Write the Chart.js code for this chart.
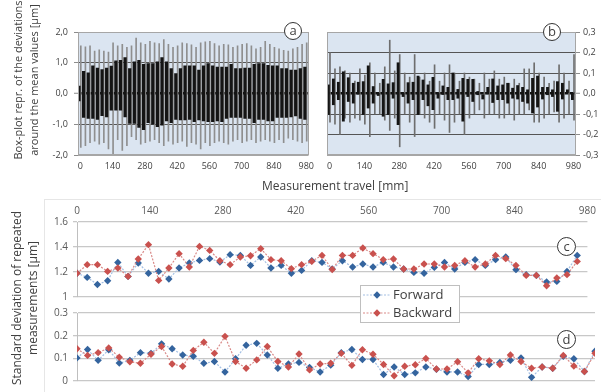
<!DOCTYPE html>
<html>
<head>
<meta charset="utf-8">
<script src="https://cdn.jsdelivr.net/npm/chart.js@4.4.1/dist/chart.umd.min.js"></script>
<style>
  body { margin: 0; background: #fff; width: 601px; height: 392px; overflow: hidden; position: relative;
         font-family: "Open Sans", sans-serif; color: #404040; }
  canvas { position: absolute; }
  #chartA { left: 0; top: 0; }
  #chartB { left: 320px; top: 0; }
  #chartC { left: 0; top: 195px; z-index: 2; }
  #chartD { left: 0; top: 300px; z-index: 1; }
  .ytitle { position: absolute; height: 32px; line-height: 16px; text-align: center; white-space: nowrap;
            transform: rotate(-90deg); }
  .tag { position: absolute; width: 16px; height: 16px; border: 1.2px solid #333; border-radius: 50%;
         background: #fff; text-align: center; font-size: 13px; line-height: 14px; z-index: 3; }
  .frame { position: absolute; left: 44px; top: 199px; width: 600px; height: 220px; border: 1px solid #e6e6e6; }
</style>
</head>
<body>
<div class="frame"></div>
<canvas id="chartA" width="320" height="180"></canvas>
<canvas id="chartB" width="281" height="180"></canvas>
<canvas id="chartC" width="601" height="140"></canvas>
<canvas id="chartD" width="601" height="92"></canvas>

<div class="ytitle" style="left:-64px; top:64px; width:180px; font-size:11px;">Box-plot repr. of the deviations<br>around the mean values [µm]</div>
<div class="ytitle" style="left:-75px; top:282px; width:200px; font-size:12px;">Standard deviation of repeated<br>measurements [µm]</div>
<div style="position:absolute; left:262px; top:178px; font-size:12px; line-height:16px;">Measurement travel [mm]</div>

<div class="tag" style="left:284px; top:22px;">a</div>
<div class="tag" style="left:543px; top:23px;">b</div>
<div class="tag" style="left:557px; top:237px; width:17px; height:17px; line-height:16px;">c</div>
<div class="tag" style="left:557px; top:330px; width:17px; height:17px; line-height:16px;">d</div>

<script>
// measurement positions [mm]
const travel = [0, 20, 40, 60, 80, 100, 120, 140, 160, 180, 200, 220, 240, 260, 280, 300, 320, 340, 360, 380,
  400, 420, 440, 460, 480, 500, 520, 540, 560, 580, 600, 620, 640, 660, 680, 700, 720, 740, 760, 780,
  800, 820, 840, 860, 880, 900, 920, 940, 960, 980];
const travelTicks = [0, 140, 280, 420, 560, 700, 840, 980];

// panel a - box (quartiles) and whiskers
const aBoxHigh = [0.24, 0.72, 0.67, 0.9, 0.83, 0.78, 0.83, 0.89, 1.06, 1.08, 1.17, 0.81, 1.03, 1.08, 0.95, 0.97, 0.97, 1.03, 1.17, 1.03,
  0.81, 0.65, 0.81, 0.9, 0.9, 0.9, 0.76, 0.9, 0.97, 0.9, 0.86, 0.86, 0.86, 0.95, 0.81, 0.81, 0.83, 0.83, 0.95, 0.97,
  0.97, 0.92, 0.9, 0.9, 0.81, 0.81, 0.76, 0.76, 0.81, 0.86];
const aBoxLow = [-0.24, -0.78, -0.81, -0.81, -0.84, -0.72, -0.76, -0.54, -0.54, -0.54, -0.76, -0.97, -0.97, -1.1, -1.18, -0.95, -1.0, -1.08, -1.03, -0.89,
  -0.95, -0.84, -0.86, -0.86, -0.84, -0.92, -0.86, -0.89, -0.92, -0.92, -0.89, -0.92, -0.81, -0.78, -0.78, -0.78, -0.81, -0.81, -0.95, -0.84,
  -0.84, -0.89, -0.89, -0.78, -0.78, -0.78, -0.76, -0.73, -0.81, -0.84];
const aWhiskHigh = [1.55, 1.52, 1.55, 1.38, 1.42, 1.38, 1.35, 1.65, 1.55, 1.6, 1.5, 1.55, 1.8, 1.65, 1.6, 1.7, 1.65, 1.62, 1.75, 1.6,
  1.5, 1.55, 1.65, 1.62, 1.58, 1.5, 1.65, 1.68, 1.7, 1.62, 1.55, 1.6, 1.58, 1.5, 1.55, 1.6, 1.62, 1.55, 1.45, 1.5,
  1.7, 1.6, 1.5, 1.45, 1.4, 1.38, 1.45, 1.5, 1.6, 1.65];
const aWhiskLow = [-1.75, -1.7, -1.6, -1.55, -1.65, -1.6, -1.8, -2.0, -1.5, -1.85, -1.7, -1.4, -1.5, -1.65, -1.6, -1.55, -1.5, -1.6, -1.7, -1.55,
  -1.65, -1.6, -1.55, -1.72, -1.6, -1.65, -1.8, -1.6, -1.7, -1.6, -1.55, -1.6, -1.65, -1.55, -1.5, -1.6, -1.55, -1.5, -1.6, -1.55,
  -1.5, -1.55, -1.6, -1.5, -1.6, -1.45, -1.5, -1.55, -1.6, -1.55];
const aYTicks = [-2, -1, 0, 1, 2];

// panel b
const bBoxHigh = [0.042, 0.071, 0.055, 0.106, 0.077, 0.05, 0.055, 0.058, 0.135, 0.034, 0.002, 0.069, 0.047, 0.053, 0.15, 0.002, 0.053, 0.055, 0.085, 0.066,
  0.042, 0.079, 0.002, 0.037, 0.03, 0.1, 0.02, 0.074, 0.069, 0.069, 0.01, -0.006, 0.03, 0.071, 0.037, 0.042, 0.05, 0.026, 0.039, 0.03,
  0.018, 0.074, 0.085, 0.03, 0.03, 0.018, 0.058, 0.05, 0.018, 0.002];
const bBoxLow = [-0.103, -0.055, -0.03, -0.135, -0.039, -0.047, -0.003, -0.103, -0.071, -0.047, -0.01, -0.111, -0.103, -0.023, -0.152, -0.015, -0.047, -0.03, -0.103, -0.03,
  -0.06, -0.079, -0.023, -0.005, -0.03, -0.03, -0.023, -0.135, -0.015, -0.039, -0.006, -0.027, -0.002, -0.044, -0.03, -0.03, -0.047, -0.023, -0.027, -0.039,
  -0.047, -0.095, -0.066, -0.027, -0.006, -0.015, -0.087, -0.027, 0.005, -0.03];
const bWhiskHigh = [0.2, 0.12, 0.13, 0.11, 0.1, 0.06, 0.12, 0.09, 0.15, 0.1, 0.05, 0.13, 0.26, 0.11, 0.19, 0.1, 0.08, 0.19, 0.08, 0.1,
  0.06, 0.14, 0.06, 0.1, 0.14, 0.1, 0.06, 0.1, 0.08, 0.07, 0.05, 0.1, 0.07, 0.11, 0.07, 0.08, 0.05, 0.07, 0.05, 0.12,
  0.12, 0.15, 0.1, 0.08, 0.05, 0.06, 0.14, 0.1, 0.06, 0.19];
const bWhiskLow = [-0.14, -0.15, -0.2, -0.12, -0.14, -0.12, -0.13, -0.15, -0.21, -0.1, -0.1, -0.13, -0.18, -0.12, -0.26, -0.1, -0.14, -0.21, -0.1, -0.12,
  -0.14, -0.17, -0.1, -0.13, -0.19, -0.14, -0.1, -0.2, -0.12, -0.1, -0.08, -0.12, -0.1, -0.1, -0.12, -0.12, -0.1, -0.13, -0.1, -0.1,
  -0.08, -0.14, -0.14, -0.12, -0.1, -0.09, -0.14, -0.12, -0.1, -0.13];
const bYTicks = [-0.3, -0.2, -0.1, 0, 0.1, 0.2, 0.3];

// panel c / d - standard deviations
const fwdC = [1.19, 1.157, 1.1, 1.13, 1.277, 1.165, 1.272, 1.19, 1.205, 1.144, 1.232, 1.272, 1.293, 1.307, 1.28, 1.339, 1.333, 1.253, 1.32, 1.232,
  1.253, 1.19, 1.213, 1.29, 1.277, 1.225, 1.29, 1.24, 1.264, 1.24, 1.277, 1.24, 1.224, 1.197, 1.19, 1.237, 1.277, 1.224, 1.277, 1.299,
  1.253, 1.299, 1.32, 1.219, 1.179, 1.173, 1.12, 1.125, 1.205, 1.333];
const bwdC = [1.19, 1.259, 1.259, 1.205, 1.232, 1.165, 1.304, 1.419, 1.133, 1.232, 1.347, 1.24, 1.405, 1.373, 1.29, 1.259, 1.32, 1.33, 1.387, 1.299,
  1.29, 1.227, 1.259, 1.285, 1.333, 1.22, 1.333, 1.333, 1.392, 1.347, 1.299, 1.304, 1.224, 1.224, 1.264, 1.264, 1.24, 1.253, 1.29, 1.24,
  1.264, 1.333, 1.307, 1.253, 1.173, 1.173, 1.09, 1.152, 1.179, 1.285];
const fwdD = [0.102, 0.139, 0.091, 0.138, 0.079, 0.091, 0.125, 0.122, 0.164, 0.142, 0.115, 0.109, 0.078, 0.086, 0.04, 0.098, 0.158, 0.166, 0.115, 0.056,
  0.075, 0.082, 0.06, 0.04, 0.07, 0.125, 0.139, 0.095, 0.095, 0.029, 0.062, 0.029, 0.036, 0.062, 0.052, 0.04, 0.04, 0.02, 0.073, 0.073,
  0.082, 0.091, 0.102, 0.016, 0.062, 0.056, 0.109, 0.098, 0.042, 0.131];
const bwdD = [0.142, 0.113, 0.125, 0.146, 0.105, 0.085, 0.078, 0.118, 0.152, 0.075, 0.065, 0.135, 0.171, 0.122, 0.197, 0.086, 0.056, 0.093, 0.152, 0.086,
  0.062, 0.119, 0.049, 0.075, 0.078, 0.122, 0.069, 0.138, 0.118, 0.073, 0.023, 0.065, 0.072, 0.099, 0.053, 0.053, 0.085, 0.036, 0.098, 0.089,
  0.073, 0.115, 0.086, 0.056, 0.062, 0.056, 0.113, 0.066, 0.042, 0.122];
const cYTicks = [1, 1.2, 1.4, 1.6];
const dYTicks = [0, 0.1, 0.2, 0.3];

Chart.defaults.font.family = '"Open Sans", sans-serif';
Chart.defaults.animation = false;
Chart.defaults.plugins.legend.display = false;
Chart.defaults.plugins.tooltip.enabled = false;

function pairs(lo, hi) { return lo.map((v, i) => [v, hi[i]]); }
function points(ys) { return ys.map((y, i) => ({ x: travel[i], y: y })); }
function fixTicks(values) { return scale => { scale.ticks = values.map(v => ({ value: v })); }; }
function comma(v) { return v.toFixed(1).replace('.', ','); }

// light blue plot background + grey frame for a and b
const panel = {
  id: 'panel',
  beforeDraw(chart, args, o) {
    const a = chart.chartArea, ctx = chart.ctx;
    ctx.save();
    ctx.fillStyle = o.color;
    ctx.fillRect(a.left, a.top, a.width, a.height);
    ctx.restore();
  },
  afterDraw(chart, args, o) {
    const a = chart.chartArea, ctx = chart.ctx;
    ctx.save();
    ctx.strokeStyle = o.border;
    ctx.lineWidth = 1;
    ctx.strokeRect(Math.round(a.left) + 0.5, Math.round(a.top) + 0.5, Math.round(a.width) - 1, Math.round(a.height) - 1);
    ctx.restore();
  }
};

function boxChart(id, boxLo, boxHi, whLo, whHi, yTicks, side, whiskColor, boxWidth) {
  const edge = yTicks[yTicks.length - 1];
  new Chart(document.getElementById(id), {
    type: 'bar',
    data: {
      labels: travel,
      datasets: [
        { data: pairs(boxLo, boxHi), backgroundColor: '#141414', barThickness: boxWidth },
        { data: pairs(whLo, whHi), backgroundColor: whiskColor, barThickness: 1 }
      ]
    },
    options: {
      responsive: false,
      layout: { padding: side === 'left' ? { top: 32, right: 7 } : { top: 32, left: 7 } },
      scales: {
        x: {
          offset: true,
          grid: { display: false, drawTicks: false },
          border: { display: false },
          ticks: {
            autoSkip: false, maxRotation: 0, padding: 6, color: '#404040', font: { size: 9 },
            callback: (v, i) => travelTicks.includes(travel[i]) ? travel[i] : ''
          },
          afterFit: s => { s.height = 25; }
        },
        y: {
          position: side, min: -edge, max: edge,
          afterBuildTicks: fixTicks(yTicks),
          grid: {
            color: c => c.tick.value === 0 ? '#111' : (Math.abs(c.tick.value) > edge * 0.99 ? '#a6a6a6' : '#555'),
            lineWidth: c => c.tick.value === 0 ? 2.5 : 1,
            tickLength: 4, tickColor: '#8c8c8c', tickWidth: 1
          },
          border: { display: false },
          ticks: { autoSkip: false, padding: side === 'left' ? 6 : 3, color: '#404040', font: { size: 9 }, callback: comma },
          afterFit: s => { s.width = side === 'left' ? 78 : 25; }
        }
      },
      plugins: { panel: { color: '#dbe5f1', border: '#a6a6a6' } }
    },
    plugins: [panel]
  });
}

boxChart('chartA', aBoxLow, aBoxHigh, aWhiskLow, aWhiskHigh, aYTicks, 'left', '#8f8f8f', 2.6);
boxChart('chartB', bBoxLow, bBoxHigh, bWhiskLow, bWhiskHigh, bYTicks, 'right', '#6e6e6e', 2.2);

function series(label, ys, line, mark, order, axis) {
  return {
    label: label, data: points(ys), xAxisID: axis, order: order,
    borderColor: line, borderWidth: 1.2, borderDash: [2, 1.5],
    pointStyle: 'rectRot', pointRadius: 3.7, pointBackgroundColor: mark, pointBorderColor: mark, pointBorderWidth: 0
  };
}

function diamond(ctx, x, y, r, color) {
  ctx.fillStyle = color;
  ctx.beginPath();
  ctx.moveTo(x, y - r); ctx.lineTo(x + r, y); ctx.lineTo(x, y + r); ctx.lineTo(x - r, y);
  ctx.closePath();
  ctx.fill();
}

// legend box sitting between c and d
const boxLegend = {
  id: 'boxLegend',
  afterDraw(chart, args, o) {
    const ctx = chart.ctx;
    ctx.save();
    ctx.fillStyle = '#fff';
    ctx.fillRect(o.x, o.y, o.w, o.h);
    ctx.strokeStyle = '#bfbfbf';
    ctx.lineWidth = 1;
    ctx.strokeRect(o.x + 0.5, o.y + 0.5, o.w, o.h);
    chart.data.datasets.forEach((ds, row) => {
      const cy = o.y + 10 + row * 18;
      ctx.strokeStyle = ds.borderColor;
      ctx.lineWidth = ds.borderWidth;
      ctx.setLineDash(ds.borderDash);
      ctx.beginPath(); ctx.moveTo(o.x + 3, cy); ctx.lineTo(o.x + 31, cy); ctx.stroke();
      ctx.setLineDash([]);
      diamond(ctx, o.x + 17, cy, ds.pointRadius, ds.pointBackgroundColor);
      ctx.fillStyle = '#404040';
      ctx.font = '13px "Open Sans"';
      ctx.textBaseline = 'middle';
      ctx.fillText(ds.label, o.x + 33, cy);
    });
    ctx.restore();
  }
};

const blueLine = '#a3bfe3', blueMark = '#34649e', redLine = '#d98a88', redMark = '#c9514e';

function yStd(min, max, ticks) {
  return {
    min: min, max: max,
    afterBuildTicks: fixTicks(ticks),
    grid: { color: '#c8c8c8', lineWidth: 1.3, tickLength: 4, tickColor: '#c8c8c8' },
    border: { color: '#bfbfbf' },
    ticks: { padding: 5, color: '#595959', font: { size: 10 }, callback: v => String(v) },
    afterFit: s => { s.width = 77; }
  };
}

new Chart(document.getElementById('chartC'), {
  type: 'line',
  data: {
    datasets: [
      series('Forward', fwdC, blueLine, blueMark, 1, 'xd'),
      series('Backward', bwdC, redLine, redMark, 0, 'xd')
    ]
  },
  options: {
    responsive: false,
    layout: { padding: { right: 6, bottom: 38 } },
    scales: {
      x: {
        type: 'linear', position: 'top', min: 0, max: 980,
        afterBuildTicks: fixTicks(travelTicks),
        grid: { display: false, drawTicks: false },
        border: { display: false },
        ticks: { padding: 5, color: '#595959', font: { size: 10 } },
        afterFit: s => { s.height = 27; }
      },
      xd: { type: 'linear', min: 0, max: 1000, display: false },
      y: yStd(1, 1.6, cYTicks)
    },
    plugins: { boxLegend: { x: 360, y: 90, w: 99, h: 37 } }
  },
  plugins: [boxLegend]
});

new Chart(document.getElementById('chartD'), {
  type: 'line',
  data: {
    datasets: [
      series('Forward', fwdD, blueLine, blueMark, 1, 'x'),
      series('Backward', bwdD, redLine, redMark, 0, 'x')
    ]
  },
  options: {
    responsive: false,
    layout: { padding: { top: 13, right: 6, bottom: 3 } },
    scales: {
      x: { type: 'linear', min: 0, max: 980, display: false },
      y: yStd(0, 0.3, dYTicks)
    }
  }
});
</script>
</body>
</html>
